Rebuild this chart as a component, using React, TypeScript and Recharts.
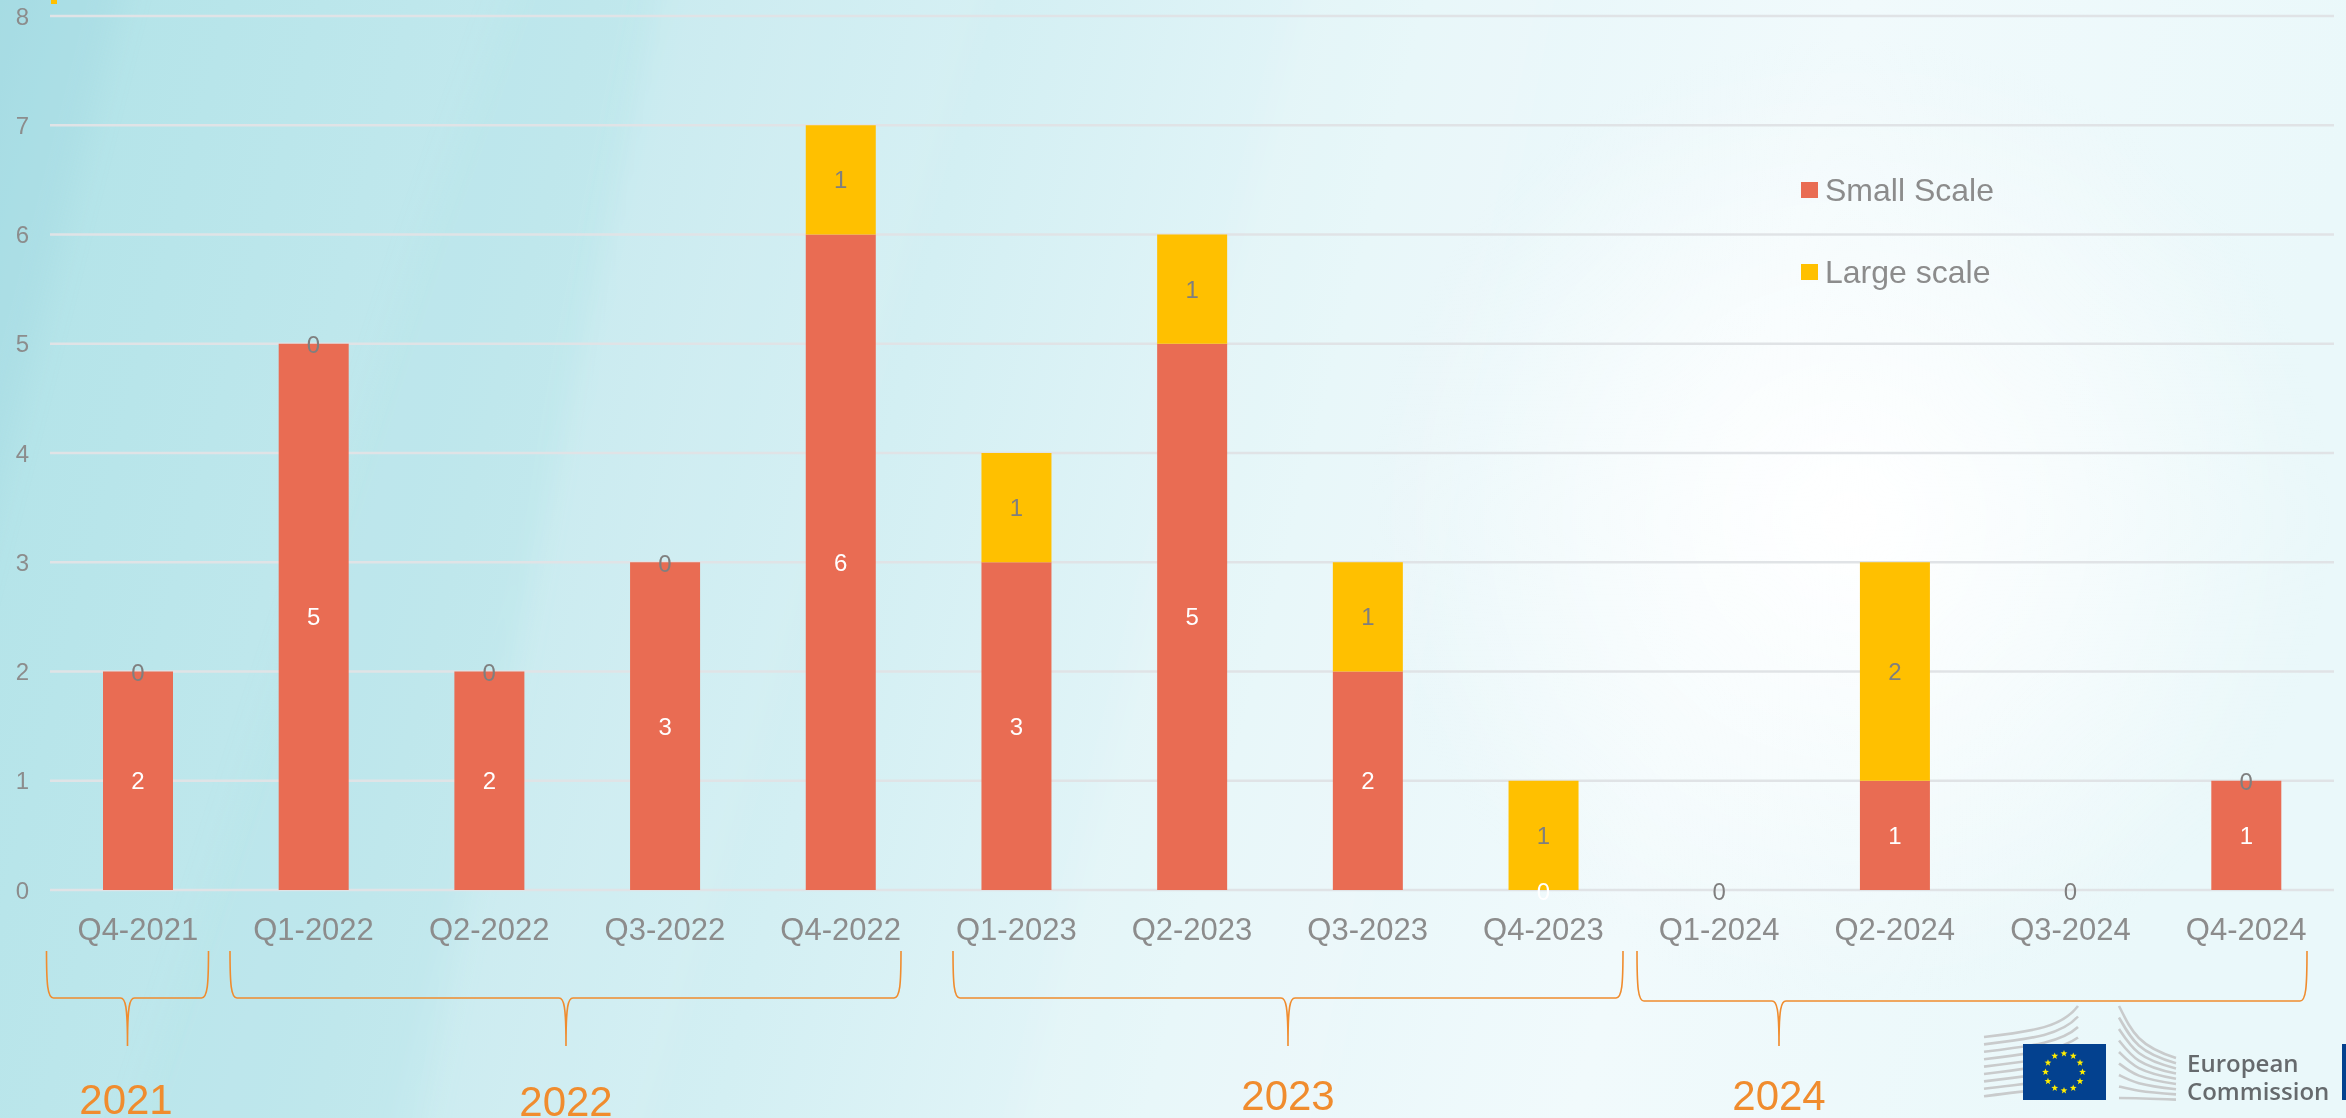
import React from "react";
import { ComposedChart, Bar, Line, XAxis, YAxis, CartesianGrid, LabelList, Legend } from "recharts";

const categories = ["Q4-2021","Q1-2022","Q2-2022","Q3-2022","Q4-2022","Q1-2023","Q2-2023","Q3-2023","Q4-2023","Q1-2024","Q2-2024","Q3-2024","Q4-2024"];
const smallScale = [2,5,2,3,6,3,5,2,0,0,1,0,1];
const largeScale = [0,0,0,0,1,1,1,1,1,0,2,0,0];
const yTicks = [0,1,2,3,4,5,6,7,8];
const yearLabels = ["2021","2022","2023","2024"];
const legendOrder = ["Small Scale","Large scale"];

const rows = categories.map((quarter, i) => ({
  quarter,
  small: smallScale[i],
  large: largeScale[i],
  smallZeroAt: smallScale[i] === 0 ? 0 : null,
  largeZeroAt: largeScale[i] === 0 ? smallScale[i] : null,
}));

const FONT = "'Liberation Sans', Arial, sans-serif";
const RED = "#e96c53";
const YELLOW = "#ffc000";
const ORANGE = "#f08c2e";
const GREY = "#8c8c8c";

const braces = [
  { x0: 46.5, x1: 208.5, tip: 127.5, y: 998, label: 0, lx: 126, ly: 1099 },
  { x0: 230, x1: 901, tip: 566, y: 998, label: 1, lx: 566, ly: 1101 },
  { x0: 953, x1: 1623, tip: 1288, y: 998, label: 2, lx: 1288, ly: 1095 },
  { x0: 1637, x1: 2307, tip: 1779, y: 1001, label: 3, lx: 1779, ly: 1095 },
];

function bracePath(b: { x0: number; x1: number; tip: number; y: number }) {
  const top = 951;
  const bottom = 1046;
  return `M${b.x0} ${top} C${b.x0} ${b.y - 14} ${b.x0 + 1} ${b.y} ${b.x0 + 7} ${b.y} L${b.tip - 7} ${b.y} C${b.tip - 2} ${b.y} ${b.tip} ${b.y + 8} ${b.tip} ${bottom} C${b.tip} ${b.y + 8} ${b.tip + 2} ${b.y} ${b.tip + 7} ${b.y} L${b.x1 - 7} ${b.y} C${b.x1 - 1} ${b.y} ${b.x1} ${b.y - 14} ${b.x1} ${top}`;
}

function Backdrop() {
  return (
    <svg width={2346} height={1118} style={{ position: "absolute", left: 0, top: 0 }}>
      <defs>
        <linearGradient id="bg" x1="0" y1="0" x2="1" y2="0.12">
          <stop offset="0" stopColor="#a8dde4" />
          <stop offset="0.06" stopColor="#b5e4e9" />
          <stop offset="0.25" stopColor="#c4e9ee" />
          <stop offset="0.42" stopColor="#d3eff3" />
          <stop offset="0.6" stopColor="#e6f6f9" />
          <stop offset="0.78" stopColor="#f1fafc" />
          <stop offset="1" stopColor="#eaf8fa" />
        </linearGradient>
        <radialGradient id="glow" cx="1850" cy="520" r="480" gradientUnits="userSpaceOnUse">
          <stop offset="0" stopColor="#ffffff" stopOpacity="1" />
          <stop offset="0.5" stopColor="#ffffff" stopOpacity="0.5" />
          <stop offset="1" stopColor="#ffffff" stopOpacity="0" />
        </radialGradient>
        <filter id="soft" x="-20%" y="-20%" width="140%" height="140%">
          <feGaussianBlur stdDeviation="14" />
        </filter>
      </defs>
      <rect width={2346} height={1118} fill="url(#bg)" />
      <g filter="url(#soft)">
        <polygon points="-40,640 130,-40 -40,-40" fill="#a4dbe2" opacity={0.35} />
        <polygon points="390,1160 680,-40 1000,-40 640,1160" fill="#ffffff" opacity={0.08} />
        <polygon points="120,1160 420,240 520,-40 660,-40 420,1160" fill="#a9dee5" opacity={0.16} />
        <polygon points="1000,1160 1300,-40 1560,-40 1320,1160" fill="#ffffff" opacity={0.1} />
      </g>
      <rect width={2346} height={1118} fill="url(#glow)" />
      <rect x={51} y={0} width={6} height={4} fill={YELLOW} />
    </svg>
  );
}

function Overlay() {
  const stars = Array.from({ length: 12 }, (_, i) => {
    const a = (i * Math.PI) / 6;
    const cx = 2064 + 18.5 * Math.cos(a);
    const cy = 1072 + 18.5 * Math.sin(a);
    const pts = Array.from({ length: 10 }, (_, k) => {
      const r = k % 2 === 0 ? 3.6 : 1.5;
      const t = -Math.PI / 2 + (k * Math.PI) / 5;
      return `${cx + r * Math.cos(t)},${cy + r * Math.sin(t)}`;
    }).join(" ");
    return <polygon key={i} points={pts} fill="#ffed00" />;
  });
  const idx = [0, 1, 2, 3, 4, 5, 6, 7, 8];
  return (
    <svg width={2346} height={1118} style={{ position: "absolute", left: 0, top: 0, pointerEvents: "none" }}>
      {braces.map((b) => (
        <g key={b.label}>
          <path d={bracePath(b)} fill="none" stroke={ORANGE} strokeWidth={1.6} />
          <text x={b.lx} y={b.ly} textAnchor="middle" dominantBaseline="central" fontFamily={FONT} fontSize={42} fill={ORANGE}>
            {yearLabels[b.label]}
          </text>
        </g>
      ))}
      <g fill="none" stroke="#c9cbcc" strokeWidth={2.6}>
        {idx.map((i) => {
          const y0 = 1037 + i * 7.4;
          return <path key={i} d={`M1984 ${y0} C2035 ${y0 - 6} 2062 ${y0 - 10} 2078 ${1006 + i * 10.5}`} />;
        })}
        {idx.map((i) => {
          const y0 = 1006 + i * 11.5;
          const t = 1 - i / 8;
          return <path key={i} d={`M2119 ${y0} C2132 ${y0 + 26 * t} 2138 ${y0 + 40 * t} 2176 ${1058 + i * 5.2}`} />;
        })}
      </g>
      <rect x={2023} y={1044} width={83} height={56} fill="#03418f" />
      {stars}
      <rect x={2342} y={1044} width={4} height={56} fill="#03418f" />
      <text x={2187} y={1072} fontFamily="'Open Sans', sans-serif" fontWeight={600} fontSize={24} fill="#666a6d">European</text>
      <text x={2187} y={1100} fontFamily="'Open Sans', sans-serif" fontWeight={600} fontSize={24} fill="#666a6d">Commission</text>
    </svg>
  );
}

function LegendBox(props: any) {
  const items = [...(props.payload || [])]
    .filter((it: any) => legendOrder.includes(it.value))
    .sort((a: any, b: any) => legendOrder.indexOf(a.value) - legendOrder.indexOf(b.value));
  return (
    <div style={{ fontFamily: FONT, fontSize: 32, color: GREY, lineHeight: "40px" }}>
      {items.map((it: any, i: number) => (
        <div key={it.value} style={{ display: "flex", alignItems: "center", height: 40, marginBottom: i === 0 ? 42 : 0 }}>
          <span style={{ display: "inline-block", width: 17, height: 16, background: it.color, marginRight: 7 }} />
          <span>{it.value}</span>
        </div>
      ))}
    </div>
  );
}

function zeroLabel(fill: string) {
  return (props: any) => {
    if (props.value !== 0) return null;
    const x = props.x ?? props.viewBox?.x;
    const y = props.y ?? props.viewBox?.y;
    return (
      <text x={x} y={y + 1} textAnchor="middle" dominantBaseline="central" fontFamily={FONT} fontSize={24} fill={fill}>
        0
      </text>
    );
  };
}

export default function App() {
  return (
    <div style={{ position: "absolute", left: 0, top: 0, width: 2346, height: 1118, overflow: "hidden" }}>
      <Backdrop />
      <div style={{ position: "absolute", left: 0, top: 0 }}>
        <ComposedChart
          width={2346}
          height={1118}
          data={rows}
          margin={{ top: 16, right: 12, bottom: 0, left: 0 }}
          barSize={70}
          style={{ fontFamily: FONT }}
        >
          <CartesianGrid horizontal vertical={false} stroke="#e0e3e6" strokeWidth={2.5} />
          <XAxis
            dataKey="quarter"
            height={228}
            interval={0}
            axisLine={false}
            tickLine={false}
            tickSize={0}
            tickMargin={28}
            tick={{ fontSize: 31, fill: GREY, fontFamily: FONT }}
          />
          <YAxis
            width={50}
            domain={[0, 8]}
            ticks={yTicks}
            axisLine={false}
            tickLine={false}
            tickSize={0}
            tickMargin={21}
            tick={{ fontSize: 24, fill: GREY, fontFamily: FONT }}
          />
          <Legend
            layout="vertical"
            align="center"
            verticalAlign="middle"
            wrapperStyle={{ left: 1801, top: 170, width: 320 }}
            content={<LegendBox />}
          />
          <Bar dataKey="small" name="Small Scale" stackId="a" fill={RED} isAnimationActive={false}>
            <LabelList dataKey="small" position="center" fill="#ffffff" fontSize={24} fontFamily={FONT} />
          </Bar>
          <Bar dataKey="large" name="Large scale" stackId="a" fill={YELLOW} isAnimationActive={false}>
            <LabelList dataKey="large" position="center" fill="#7f7f7f" fontSize={24} fontFamily={FONT} />
          </Bar>
          <Line dataKey="smallZeroAt" stroke="none" dot={false} activeDot={false} legendType="none" isAnimationActive={false}>
            <LabelList dataKey="small" content={zeroLabel("#ffffff")} />
          </Line>
          <Line dataKey="largeZeroAt" stroke="none" dot={false} activeDot={false} legendType="none" isAnimationActive={false}>
            <LabelList dataKey="large" content={zeroLabel("#7f7f7f")} />
          </Line>
        </ComposedChart>
      </div>
      <Overlay />
    </div>
  );
}
